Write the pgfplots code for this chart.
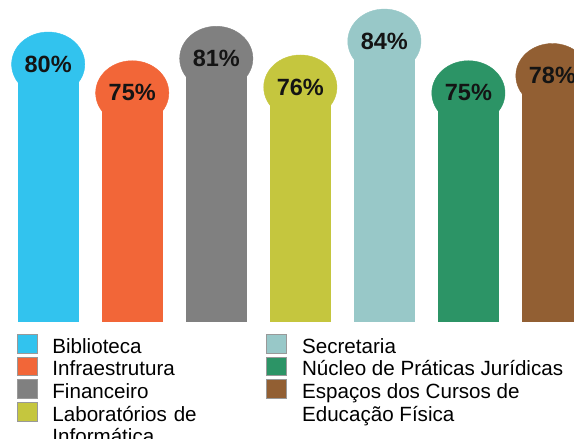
\documentclass[border=0pt]{standalone}
\usepackage{pgfplots}
\pgfplotsset{compat=1.18}
\usepackage{fontspec}
\setmainfont{Liberation Sans}
\definecolor{cBib}{RGB}{50,195,238}
\definecolor{cInf}{RGB}{242,102,56}
\definecolor{cFin}{RGB}{128,128,128}
\definecolor{cLab}{RGB}{197,198,62}
\definecolor{cSec}{RGB}{152,200,200}
\definecolor{cNuc}{RGB}{44,148,102}
\definecolor{cEsp}{RGB}{146,95,51}
\pgfplotsset{
  pill/.style={ybar, bar width=0.726, bar shift=0pt, color=#1, draw=none, fill=#1,
    mark=*, mark size=36.6pt, mark options={draw=#1, fill=#1, yscale=0.88},
    point meta=explicit symbolic, nodes near coords,
    every node near coord/.append style={font=\fontsize{23.5}{28}\selectfont\bfseries, text=black!92, anchor=center, inner sep=0pt},
    forget plot},
  sw/.style={legend image code/.code={\draw[fill=#1, draw=black!40, line width=0.7pt] (0pt,-7.35pt) rectangle (20pt,11.15pt);}},
}
\begin{document}
\begin{tikzpicture}
\useasboundingbox (0pt,0pt) rectangle (574pt,439pt);
\clip (0pt,0pt) rectangle (574pt,439pt);
\begin{axis}[
  at={(0pt,117pt)}, anchor=south west,
  scale only axis, width=574pt, height=322pt,
  xmin=-0.5735, xmax=6.2565, ymin=35.10, ymax=91.19,
  hide axis,
  legend columns=2,
  legend cell align=left,
  legend style={at={(0.0291,-0.038)}, anchor=north west, draw=none, fill=none,
    inner sep=0pt, outer sep=0pt, row sep=0pt,
    font=\fontsize{20.6}{24}\selectfont,
    nodes={inner sep=0pt, text height=18.75pt, text depth=3.5pt},
    /tikz/every odd column/.append style={column sep=15pt},
    /tikz/every even column/.append style={column sep=0pt},
    /tikz/column 2/.append style={/tikz/every node/.append style={text width=214pt}}},
]
\addplot[pill=cBib] coordinates {(0,80) [80\%]};
\addplot[pill=cInf] coordinates {(1,75) [75\%]};
\addplot[pill=cFin] coordinates {(2,81) [81\%]};
\addplot[pill=cLab] coordinates {(3,76) [76\%]};
\addplot[pill=cSec] coordinates {(4,84) [84\%]};
\addplot[pill=cNuc] coordinates {(5,75) [75\%]};
\addplot[pill=cEsp] coordinates {(6,78) [78\%]};
\addlegendimage{sw=cBib}\addlegendentry{Biblioteca}
\addlegendimage{sw=cSec}\addlegendentry{Secretaria}
\addlegendimage{sw=cInf}\addlegendentry{Infraestrutura}
\addlegendimage{sw=cNuc}\addlegendentry{Núcleo de Práticas Jurídicas}
\addlegendimage{sw=cFin}\addlegendentry{Financeiro}
\addlegendimage{sw=cEsp}\addlegendentry{Espaços dos Cursos de}
\addlegendimage{sw=cLab}\addlegendentry{Laboratórios de}
\addlegendimage{empty legend}\addlegendentry{Educação Física}
\addlegendimage{empty legend}\addlegendentry{Informática}
\end{axis}
\end{tikzpicture}
\end{document}
